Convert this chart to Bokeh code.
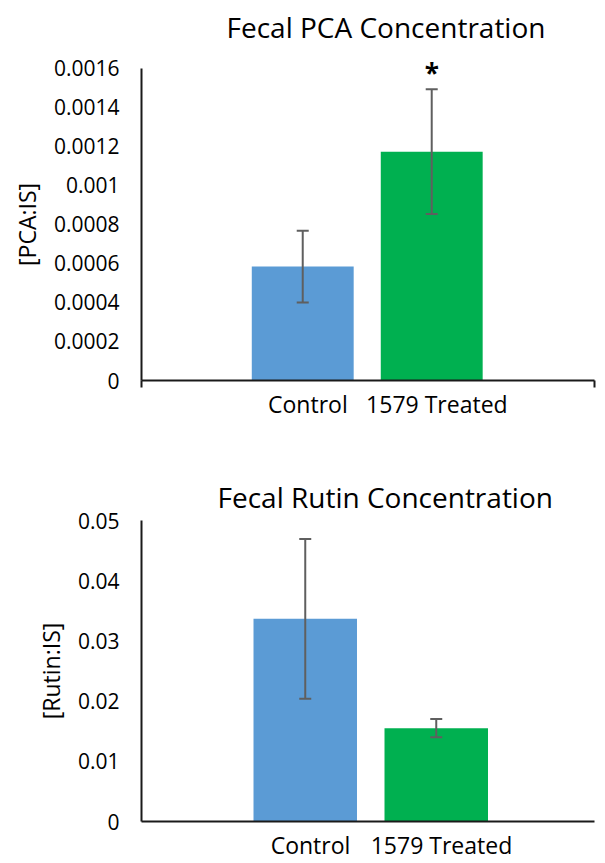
from bokeh.plotting import figure
from bokeh.layouts import column
from bokeh.models import (Range1d, FixedTicker, LinearAxis, Whisker, TeeHead,
                          ColumnDataSource, Label)
from bokeh.embed import file_html
from bokeh.resources import INLINE

# ---------------- data ----------------
categories = ["Control", "1579 Treated"]
bar_colors = ["#5B9BD5", "#00B050"]

pca_means = [0.000584, 0.001173]
pca_errors = [0.000184, 0.000320]
pca_significance = ["", "*"]
pca_ticks = [0, 0.0002, 0.0004, 0.0006, 0.0008, 0.001, 0.0012, 0.0014, 0.0016]
pca_tick_labels = ["0", "0.0002", "0.0004", "0.0006", "0.0008", "0.001",
                   "0.0012", "0.0014", "0.0016"]

rutin_means = [0.03366, 0.01551]
rutin_errors = [0.01328, 0.00151]
rutin_significance = ["", ""]
rutin_ticks = [0, 0.01, 0.02, 0.03, 0.04, 0.05]
rutin_tick_labels = ["0", "0.01", "0.02", "0.03", "0.04", "0.05"]

# ---------------- style ----------------
FONT = "Open Sans"
TEXT = "#000000"
ERR = "#5f5f5f"
AXIS = "#1a1a1a"
FIRST_POS = 1.25
BAR_WIDTH = 0.79
LABEL_SHIFT = 0.04
NBSP = "\u00a0"


def make_chart(title, means, errors, sig, ticks, tick_labels, ylabel,
               width, height, left, right, top, bottom, extra_top_px, x_end,
               end_ticks, title_offset, cat_standoff):
    frame_h = height - top - bottom
    ypp = ticks[-1] / (frame_h - extra_top_px)   # data units per pixel (y)

    xs = [FIRST_POS + i for i in range(len(categories))]
    src = ColumnDataSource(dict(
        x=xs, top=means, color=bar_colors, cat=categories,
        upper=[m + e for m, e in zip(means, errors)],
        lower=[m - e for m, e in zip(means, errors)],
    ))
    p = figure(width=width, height=height,
               x_range=Range1d(0, x_end),
               y_range=Range1d(0, ticks[-1] + extra_top_px * ypp),
               output_backend="svg", toolbar_location=None,
               x_axis_location=None,
               min_border_left=left, min_border_right=right,
               min_border_top=top, min_border_bottom=bottom)
    p.outline_line_color = None
    p.grid.grid_line_color = None
    p.background_fill_color = "white"
    p.border_fill_color = "white"

    p.vbar(x="x", top="top", bottom=0, width=BAR_WIDTH, color="color",
           line_color=None, source=src)
    w = Whisker(source=src, base="x", upper="upper", lower="lower",
                line_color=ERR, line_width=2, level="overlay",
                upper_head=TeeHead(size=12, line_color=ERR, line_width=2),
                lower_head=TeeHead(size=12, line_color=ERR, line_width=2))
    p.add_layout(w)

    for x, u, s in zip(xs, src.data["upper"], sig):
        if s:
            p.add_layout(Label(x=x, y=u + 16 * ypp, text=s,
                               text_align="center", text_baseline="alphabetic",
                               text_font=FONT, text_font_size="26px",
                               text_font_style="bold", text_color=TEXT))

    # title
    p.title.text = title
    p.title.align = "left"
    p.title.offset = title_offset
    p.title.text_font = FONT
    p.title.text_font_size = "28px"
    p.title.text_font_style = "normal"
    p.title.text_color = TEXT

    # y axis
    ya = p.yaxis[0]
    ya.bounds = (0, ticks[-1])
    ya.ticker = FixedTicker(ticks=ticks)
    ya.major_label_overrides = dict(zip(ticks, tick_labels))
    ya.major_tick_line_color = None
    ya.minor_tick_line_color = None
    ya.major_tick_out = 0
    ya.major_tick_in = 0
    ya.major_label_standoff = 22
    ya.major_label_text_font = FONT
    ya.major_label_text_font_size = "21px"
    ya.major_label_text_color = TEXT
    ya.axis_line_color = AXIS
    ya.axis_line_width = 2
    # pad the (upward-reading) label so it stays centred on the value axis
    ya.axis_label = ylabel + NBSP * round(extra_top_px / 6.0)
    ya.axis_label_text_font = FONT
    ya.axis_label_text_font_size = "23px"
    ya.axis_label_text_font_style = "normal"
    ya.axis_label_text_color = TEXT
    ya.axis_label_standoff = 8

    # x axis: line, end ticks (as minor ticks) and category labels
    label_pos = [x + LABEL_SHIFT for x in xs]
    xa = LinearAxis(ticker=FixedTicker(ticks=label_pos, minor_ticks=end_ticks),
                    major_label_overrides=dict(zip(label_pos, categories)),
                    major_tick_line_color=None,
                    major_tick_out=0, major_tick_in=0,
                    minor_tick_line_color=AXIS, minor_tick_line_width=2,
                    minor_tick_out=7 if end_ticks else 0, minor_tick_in=0,
                    major_label_standoff=cat_standoff,
                    major_label_text_font=FONT,
                    major_label_text_font_size="23px",
                    major_label_text_color=TEXT,
                    axis_line_color=AXIS, axis_line_width=2)
    p.add_layout(xa, "below")
    return p


p1 = make_chart("Fecal PCA Concentration", pca_means, pca_errors,
                pca_significance, pca_ticks, pca_tick_labels, "[PCA:IS]",
                width=605, height=422, left=141, right=11, top=48, bottom=41,
                extra_top_px=18, x_end=3.512, end_ticks=[0, 3.512],
                title_offset=85, cat_standoff=0)
p2 = make_chart("Fecal Rutin Concentration", rutin_means, rutin_errors,
                rutin_significance, rutin_ticks, rutin_tick_labels,
                "[Rutin:IS]",
                width=605, height=441, left=133, right=0, top=98, bottom=40,
                extra_top_px=0, x_end=3.458, end_ticks=[],
                title_offset=76, cat_standoff=7)

layout = column(p1, p2, spacing=0)
open("out.html", "w").write(file_html(layout, INLINE))
